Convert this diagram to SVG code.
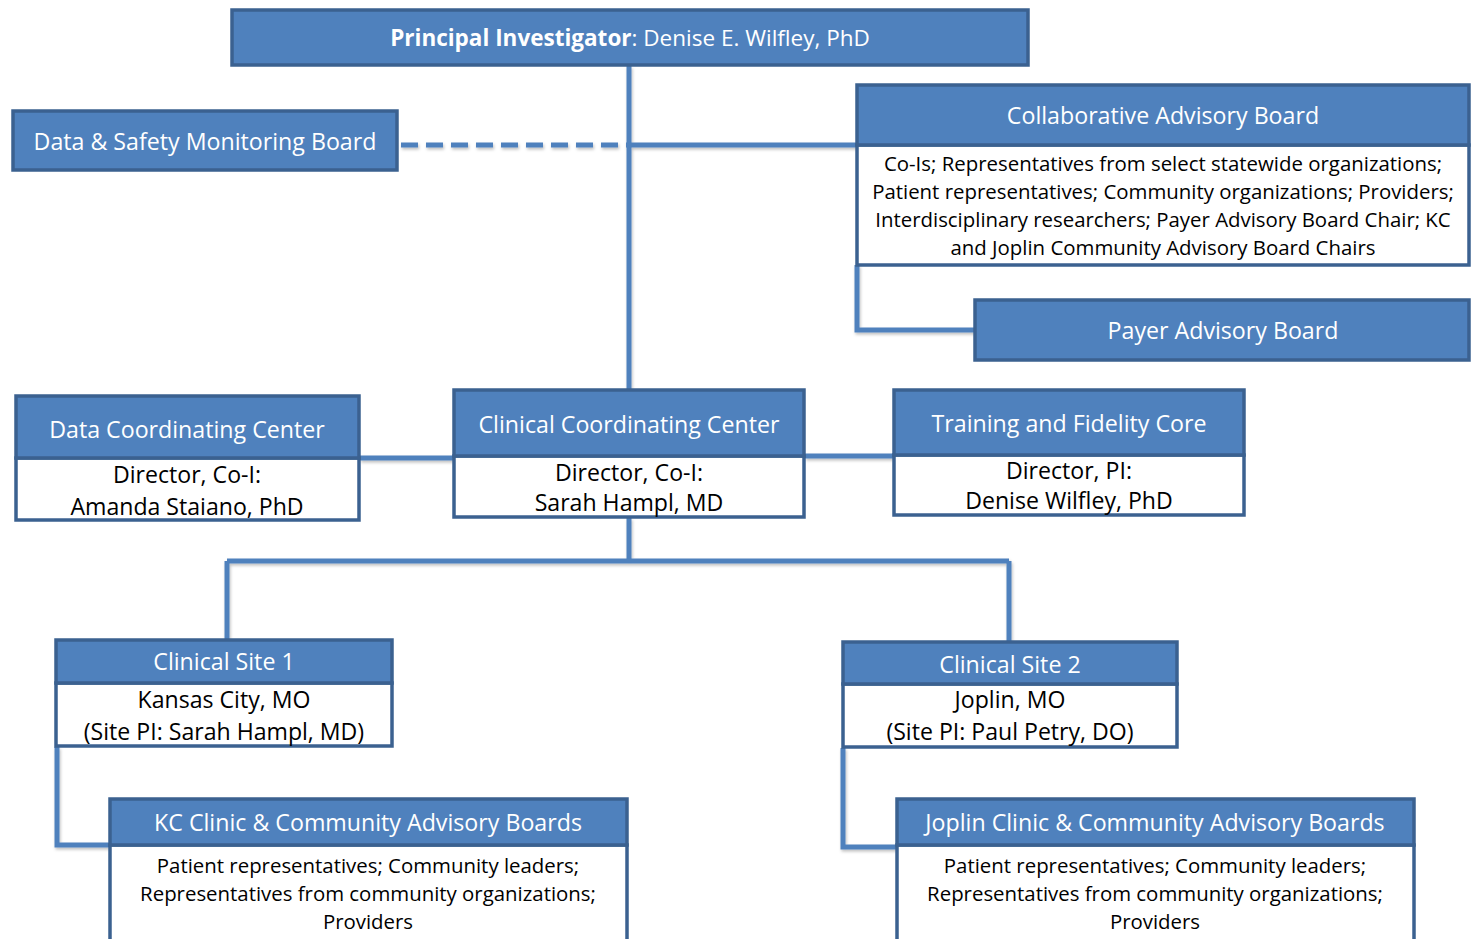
<svg xmlns="http://www.w3.org/2000/svg" width="1472" height="939" viewBox="0 0 1472 939">
<defs>
<style>
.hd{fill:#4F81BD;stroke:#3B6190;stroke-width:3.5}
.bd{fill:#FFFFFF;stroke:#3B6190;stroke-width:3.5}
.ht{font-family:"Open Sans","Liberation Sans",Arial,sans-serif;font-size:23.2px;fill:#FFFFFF;text-anchor:middle}
.pt{font-family:"Open Sans","Liberation Sans",Arial,sans-serif;font-size:22.5px;fill:#FFFFFF;text-anchor:middle}
.bt{font-family:"Open Sans","Liberation Sans",Arial,sans-serif;font-size:23.1px;fill:#000000;text-anchor:middle}
.st{font-family:"Open Sans","Liberation Sans",Arial,sans-serif;font-size:20.4px;fill:#000000;text-anchor:middle}
.cn{fill:none;stroke:#4F81BD;stroke-width:5}
</style>
<filter id="sh" x="-5%" y="-5%" width="110%" height="120%"><feDropShadow dx="1" dy="2" stdDeviation="1.5" flood-color="#000" flood-opacity="0.25"/></filter>
</defs>
<rect width="1472" height="939" fill="#FFFFFF"/>
<g id="connectors" filter="url(#sh)">
<path class="cn" d="M629 66 V389"/>
<path class="cn" d="M629 145 H857"/>
<path class="cn" d="M401 145 H627" stroke-dasharray="17 8"/>
<path class="cn" d="M857 265 V330 H975"/>
<path class="cn" d="M360 458 H454"/>
<path class="cn" d="M805 456 H894"/>
<path class="cn" d="M629 518 V561"/>
<path class="cn" d="M227 561 H1009"/>
<path class="cn" d="M227 561 V640"/>
<path class="cn" d="M1009 561 V642"/>
<path class="cn" d="M57 747 V845 H110"/>
<path class="cn" d="M843 748 V847 H897"/>
</g>
<g id="pi">
<rect class="hd" x="232" y="10" width="796" height="55"/>
<text class="pt" x="630" y="46"><tspan font-weight="bold">Principal Investigator</tspan>: Denise E. Wilfley, PhD</text>
</g>
<g id="dsmb">
<rect class="hd" x="13" y="111" width="384" height="59"/>
<text class="ht" x="205" y="150">Data &amp; Safety Monitoring Board</text>
</g>
<g id="cab">
<rect class="bd" x="857" y="145" width="612" height="120"/>
<rect class="hd" x="857" y="85" width="612" height="60"/>
<text class="ht" x="1163" y="124">Collaborative Advisory Board</text>
<text class="st" x="1163" y="171">Co-Is; Representatives from select statewide organizations;</text>
<text class="st" x="1163" y="199">Patient representatives; Community organizations; Providers;</text>
<text class="st" x="1163" y="227">Interdisciplinary researchers; Payer Advisory Board Chair; KC</text>
<text class="st" x="1163" y="255">and Joplin Community Advisory Board Chairs</text>
</g>
<g id="payer">
<rect class="hd" x="975" y="300" width="494" height="60"/>
<text class="ht" x="1223" y="339">Payer Advisory Board</text>
</g>
<g id="dcc">
<rect class="bd" x="16" y="458" width="343" height="62"/>
<rect class="hd" x="16" y="396" width="343" height="62"/>
<text class="ht" x="187" y="438">Data Coordinating Center</text>
<text class="bt" x="187" y="483">Director, Co-I:</text>
<text class="bt" x="187" y="515">Amanda Staiano, PhD</text>
</g>
<g id="ccc">
<rect class="bd" x="454" y="456" width="350" height="61"/>
<rect class="hd" x="454" y="390" width="350" height="66"/>
<text class="ht" x="629" y="433">Clinical Coordinating Center</text>
<text class="bt" x="629" y="481">Director, Co-I:</text>
<text class="bt" x="629" y="511">Sarah Hampl, MD</text>
</g>
<g id="tfc">
<rect class="bd" x="894" y="455" width="350" height="60"/>
<rect class="hd" x="894" y="390" width="350" height="65"/>
<text class="ht" x="1069" y="432">Training and Fidelity Core</text>
<text class="bt" x="1069" y="479">Director, PI:</text>
<text class="bt" x="1069" y="509">Denise Wilfley, PhD</text>
</g>
<g id="site1">
<rect class="bd" x="56" y="683" width="336" height="63"/>
<rect class="hd" x="56" y="640" width="336" height="43"/>
<text class="ht" x="224" y="670">Clinical Site 1</text>
<text class="bt" x="224" y="708">Kansas City, MO</text>
<text class="bt" x="224" y="740">(Site PI: Sarah Hampl, MD)</text>
</g>
<g id="site2">
<rect class="bd" x="843" y="684" width="334" height="63"/>
<rect class="hd" x="843" y="642" width="334" height="42"/>
<text class="ht" x="1010" y="673">Clinical Site 2</text>
<text class="bt" x="1010" y="708">Joplin, MO</text>
<text class="bt" x="1010" y="740">(Site PI: Paul Petry, DO)</text>
</g>
<g id="kc">
<rect class="bd" x="110" y="845" width="517" height="100"/>
<rect class="hd" x="110" y="799" width="517" height="46"/>
<text class="ht" x="368" y="831">KC Clinic &amp; Community Advisory Boards</text>
<text class="st" x="368" y="873">Patient representatives; Community leaders;</text>
<text class="st" x="368" y="901">Representatives from community organizations;</text>
<text class="st" x="368" y="929">Providers</text>
</g>
<g id="joplin">
<rect class="bd" x="897" y="845" width="517" height="100"/>
<rect class="hd" x="897" y="799" width="517" height="46"/>
<text class="ht" x="1155" y="831">Joplin Clinic &amp; Community Advisory Boards</text>
<text class="st" x="1155" y="873">Patient representatives; Community leaders;</text>
<text class="st" x="1155" y="901">Representatives from community organizations;</text>
<text class="st" x="1155" y="929">Providers</text>
</g>
</svg>
